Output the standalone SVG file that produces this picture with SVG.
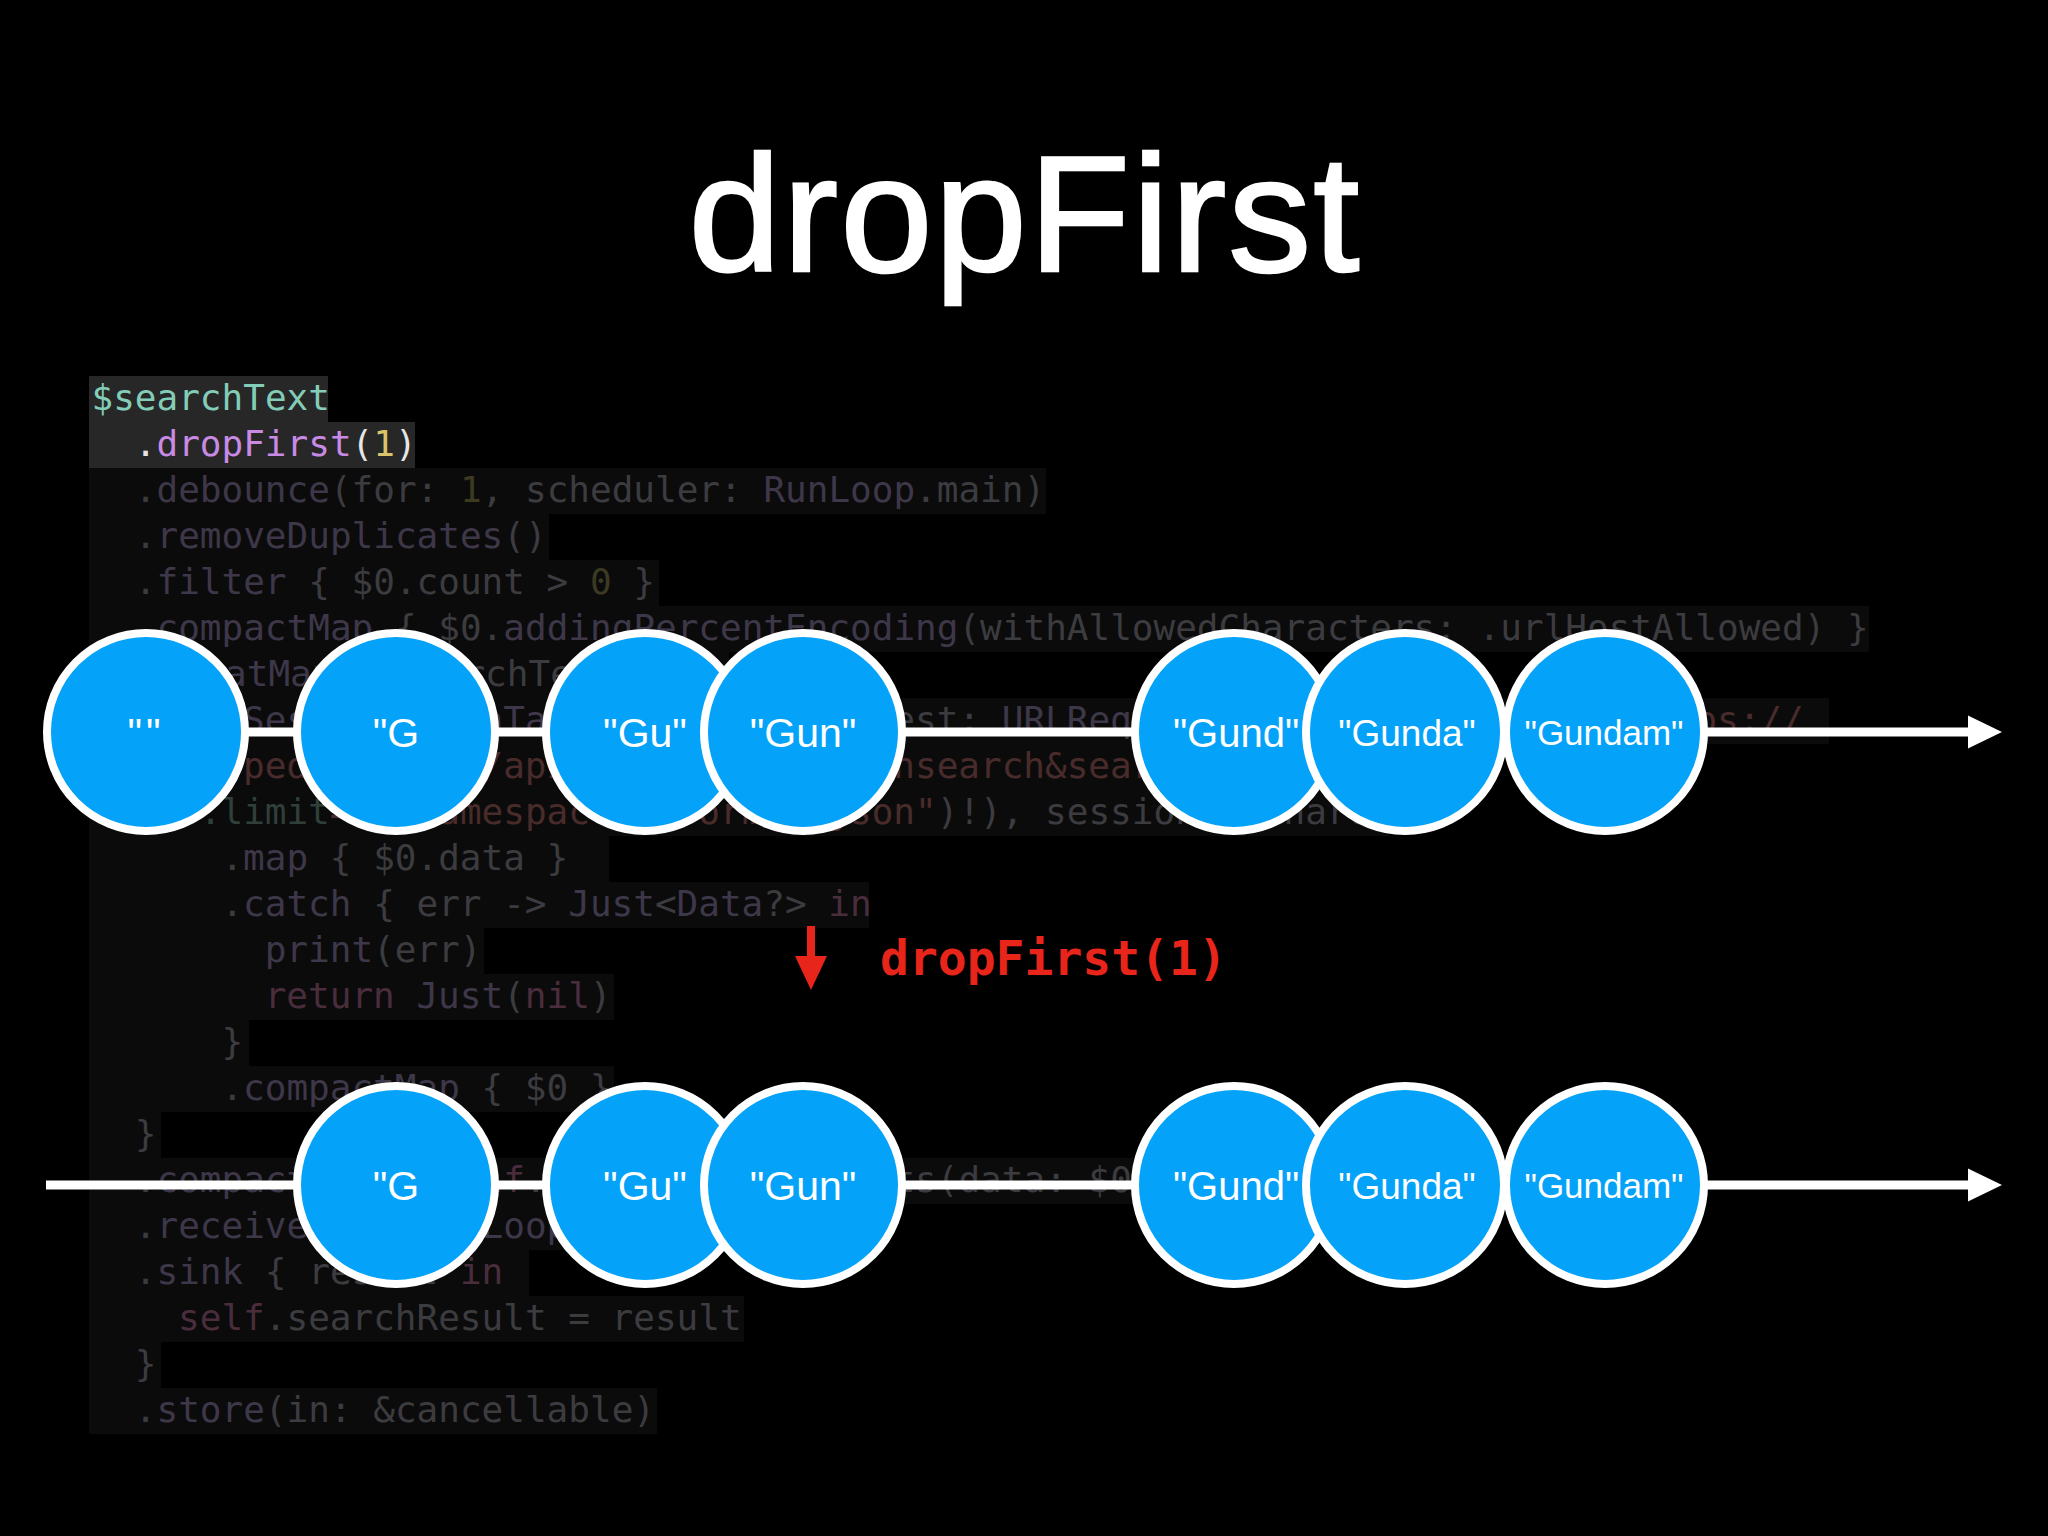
<svg xmlns="http://www.w3.org/2000/svg" width="2048" height="1536" viewBox="0 0 2048 1536">
<defs>
<style>
.code{font-family:"DejaVu Sans Mono","Liberation Mono",monospace;font-size:36px;fill:#3c3c40;white-space:pre}
.m{fill:#3e3749}
.n{fill:#3d3a22}
.s{fill:#4a2b2b}
.k{fill:#4a2d3c}
.t{fill:#2f3f3a}
.lbg{fill:#0b0b0b}
.hbg{fill:#272727}
.node circle{fill:#04a2f8;stroke:#ffffff;stroke-width:8}
.node text{font-family:"Liberation Sans",Arial,sans-serif;fill:#ffffff;text-anchor:middle}
.line{stroke:#ffffff;stroke-width:9;fill:none}
.head{fill:#ffffff}
</style>
</defs>
<rect x="0" y="0" width="2048" height="1536" fill="#000000"/>
<text x="1025" y="271" font-family="Liberation Sans, Arial, sans-serif" font-size="166" fill="#ffffff" stroke="#ffffff" stroke-width="2.5" text-anchor="middle" letter-spacing="2">dropFirst</text>
<g id="code">
<rect class="hbg" x="89" y="376" width="239" height="46"/>
<rect class="hbg" x="89" y="422" width="326" height="46"/>
<rect class="lbg" x="89" y="468" width="957" height="46"/>
<rect class="lbg" x="89" y="514" width="460" height="46"/>
<rect class="lbg" x="89" y="560" width="570" height="46"/>
<rect class="lbg" x="89" y="606" width="1780" height="46"/>
<rect class="lbg" x="89" y="652" width="640" height="46"/>
<rect class="lbg" x="89" y="698" width="1740" height="46"/>
<rect class="lbg" x="89" y="744" width="1150" height="46"/>
<rect class="lbg" x="89" y="790" width="1300" height="46"/>
<rect class="lbg" x="89" y="836" width="520" height="46"/>
<rect class="lbg" x="89" y="882" width="780" height="46"/>
<rect class="lbg" x="89" y="928" width="395" height="46"/>
<rect class="lbg" x="89" y="974" width="525" height="46"/>
<rect class="lbg" x="89" y="1020" width="160" height="46"/>
<rect class="lbg" x="89" y="1066" width="525" height="46"/>
<rect class="lbg" x="89" y="1112" width="72" height="46"/>
<rect class="lbg" x="89" y="1158" width="1100" height="46"/>
<rect class="lbg" x="89" y="1204" width="610" height="46"/>
<rect class="lbg" x="89" y="1250" width="440" height="46"/>
<rect class="lbg" x="89" y="1296" width="655" height="46"/>
<rect class="lbg" x="89" y="1342" width="72" height="46"/>
<rect class="lbg" x="89" y="1388" width="568" height="46"/>
<text class="code" x="91.5" y="410" style="fill:#83cdb8">$searchText</text>
<text class="code" x="134.8" y="456" style="fill:#e6e6e6">.<tspan style="fill:#c88ae4">dropFirst</tspan>(<tspan style="fill:#d9c46a">1</tspan>)</text>
<text class="code" x="134.8" y="502">.<tspan class="m">debounce</tspan>(for: <tspan class="n">1</tspan>, scheduler: <tspan class="m">RunLoop</tspan>.main)</text>
<text class="code" x="134.8" y="548">.<tspan class="m">removeDuplicates</tspan>()</text>
<text class="code" x="134.8" y="594">.<tspan class="m">filter</tspan> { $0.count &gt; <tspan class="n">0</tspan> }</text>
<text class="code" x="134.8" y="640">.<tspan class="m">compactMap</tspan> { $0.<tspan class="m">addingPercentEncoding</tspan>(withAllowedCharacters: .urlHostAllowed) }</text>
<text class="code" x="160" y="686">.<tspan class="m">flatMap</tspan> { searchText <tspan class="k">in</tspan></text>
<text class="code" x="178.1" y="732"><tspan class="m">URLSession</tspan>.<tspan class="m">DataTaskPublisher</tspan>(request: <tspan class="m">URLRequest</tspan>(url: <tspan class="m">URL</tspan>(string: <tspan class="s">"https://</tspan></text>
<text class="code" x="243.1" y="778"><tspan class="s">pedia.org/w/api.php?action=opensearch&amp;search=</tspan></text>
<text class="code" x="199.8" y="824"><tspan class="t">.limit</tspan><tspan class="s">=10&amp;namespace=0&amp;format=json"</tspan>)!), session: .shared)</text>
<text class="code" x="221.4" y="870">.<tspan class="m">map</tspan> { $0.data }</text>
<text class="code" x="221.4" y="916">.<tspan class="m">catch</tspan> { err -&gt; <tspan class="m">Just</tspan>&lt;<tspan class="m">Data</tspan>?&gt; <tspan class="k">in</tspan></text>
<text class="code" x="264.7" y="962"><tspan class="m">print</tspan>(err)</text>
<text class="code" x="264.7" y="1008"><tspan class="k">return</tspan> <tspan class="m">Just</tspan>(<tspan class="k">nil</tspan>)</text>
<text class="code" x="221.4" y="1054">}</text>
<text class="code" x="221.4" y="1100">.<tspan class="m">compactMap</tspan> { $0 }</text>
<text class="code" x="134.8" y="1146">}</text>
<text class="code" x="134.8" y="1192">.<tspan class="m">compactMap</tspan> { <tspan class="k">self</tspan>.parseSearchResults(data: $0) }</text>
<text class="code" x="134.8" y="1238">.<tspan class="m">receive</tspan>(on: <tspan class="m">RunLoop</tspan>.main)</text>
<text class="code" x="134.8" y="1284">.<tspan class="m">sink</tspan> { result <tspan class="k">in</tspan></text>
<text class="code" x="178.1" y="1330"><tspan class="k">self</tspan>.searchResult = result</text>
<text class="code" x="134.8" y="1376">}</text>
<text class="code" x="134.8" y="1422">.<tspan class="m">store</tspan>(in: &amp;cancellable)</text>
</g>
<g id="connectors">
<line class="line" x1="146" y1="732" x2="1972" y2="732"/>
<polygon class="head" points="1968,715.5 2002,732 1968,748.5"/>
<line class="line" x1="46" y1="1185" x2="1972" y2="1185"/>
<polygon class="head" points="1968,1168.5 2002,1185 1968,1201.5"/>
<g id="operator">
<line x1="811" y1="926" x2="811" y2="962" stroke="#e8251a" stroke-width="8"/>
<polygon points="795,956 827,956 811,990" fill="#e8251a"/>
<text x="880" y="975" font-family="DejaVu Sans Mono, Liberation Mono, monospace" font-weight="bold" font-size="48" fill="#e8251a">dropFirst(1)</text>
</g>
</g>
<g id="input-row">
<g class="node" id="in-empty"><circle cx="146" cy="732" r="99"/><text x="146" y="747" font-size="41" letter-spacing="4">""</text></g>
<g class="node" id="in-G"><circle cx="396" cy="732" r="99"/><text x="396" y="747" font-size="41">"G</text></g>
<g class="node" id="in-Gu"><circle cx="645" cy="732" r="99"/><text x="645" y="747" font-size="41">"Gu"</text></g>
<g class="node" id="in-Gun"><circle cx="803" cy="732" r="99"/><text x="803" y="747" font-size="41">"Gun"</text></g>
<g class="node" id="in-Gund"><circle cx="1234" cy="732" r="99"/><text x="1236" y="747" font-size="40">"Gund"</text></g>
<g class="node" id="in-Gunda"><circle cx="1405" cy="732" r="99"/><text x="1407" y="746" font-size="37">"Gunda"</text></g>
<g class="node" id="in-Gundam"><circle cx="1605" cy="732" r="99"/><text x="1604" y="745" font-size="35">"Gundam"</text></g>
</g>
<g id="output-row">
<g class="node" id="out-G"><circle cx="396" cy="1185" r="99"/><text x="396" y="1200" font-size="41">"G</text></g>
<g class="node" id="out-Gu"><circle cx="645" cy="1185" r="99"/><text x="645" y="1200" font-size="41">"Gu"</text></g>
<g class="node" id="out-Gun"><circle cx="803" cy="1185" r="99"/><text x="803" y="1200" font-size="41">"Gun"</text></g>
<g class="node" id="out-Gund"><circle cx="1234" cy="1185" r="99"/><text x="1236" y="1200" font-size="40">"Gund"</text></g>
<g class="node" id="out-Gunda"><circle cx="1405" cy="1185" r="99"/><text x="1407" y="1199" font-size="37">"Gunda"</text></g>
<g class="node" id="out-Gundam"><circle cx="1605" cy="1185" r="99"/><text x="1604" y="1198" font-size="35">"Gundam"</text></g>
</g>
</svg>
